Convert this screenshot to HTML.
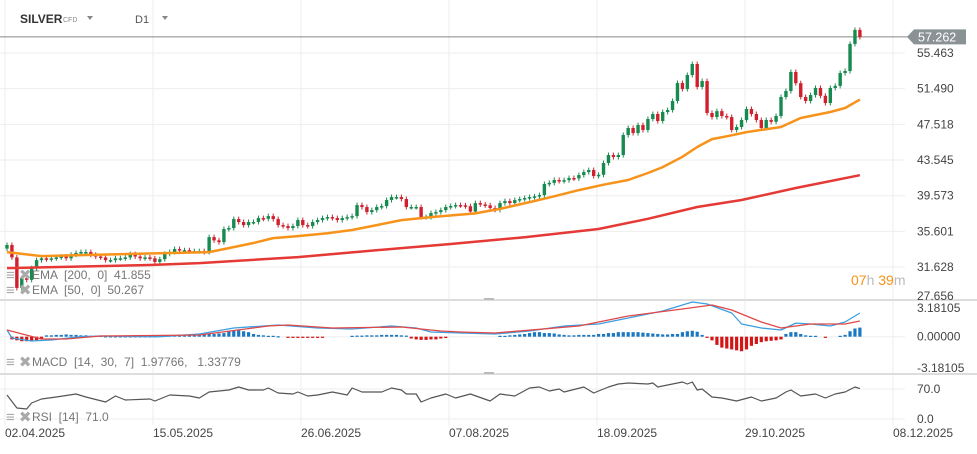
<!DOCTYPE html>
<html><head><meta charset="utf-8">
<style>
body{margin:0;background:#fff;width:977px;height:449px;overflow:hidden;font-family:"Liberation Sans",sans-serif;}
svg text{font-family:"Liberation Sans",sans-serif;white-space:pre;}
</style></head>
<body>
<svg id="c" width="977" height="449" xmlns="http://www.w3.org/2000/svg">
<g id="grid"></g>
<g id="main"></g>
<g id="macd"></g>
<g id="rsi"></g>
<g id="axes"></g>
<g>
<text x="20" y="23" font-size="12" font-weight="bold" fill="#333">SILVER</text>
<text x="63" y="22" font-size="7" fill="#888">CFD</text>
<path d="M87 16 L93 16 L90 20 Z" fill="#888"/>
<text x="135" y="23" font-size="11" fill="#555">D1</text>
<path d="M162 16 L168 16 L165 20 Z" fill="#888"/>
</g>
<g>
<text x="851" y="285" font-size="14"><tspan fill="#f7931a">07</tspan><tspan fill="#bbb">h </tspan><tspan fill="#f7931a">39</tspan><tspan fill="#bbb">m</tspan></text>
</g>
<g font-size="12" fill="#777">
<text x="6" y="280" font-size="15" fill="#aaa">≡ ✖</text>
<text x="32" y="279">EMA  [200,  0]  41.855</text>
<text x="6" y="295" font-size="15" fill="#aaa">≡ ✖</text>
<text x="32" y="294">EMA  [50,  0]  50.267</text>
<text x="6" y="367" font-size="15" fill="#aaa">≡ ✖</text>
<text x="32" y="366">MACD  [14,  30,  7]  1.97766,   1.33779</text>
<text x="6" y="422" font-size="15" fill="#aaa">≡ ✖</text>
<text x="32" y="421">RSI  [14]  71.0</text>
</g>
</svg>
<script>
const closes=[34.08,32.7,29.3,30.4,30.2,31.5,32.4,32.6,32.5,32.6,32.7,32.8,32.6,33.0,33.2,33.3,33.3,33.0,32.8,32.7,32.4,32.4,32.6,32.6,32.7,33.07,32.8,32.6,32.7,32.6,32.2,32.5,33.1,33.3,33.63,33.5,33.5,33.4,33.4,33.4,33.3,34.96,34.6,34.4,35.86,35.97,36.97,36.64,36.3,36.64,36.64,37.08,37.0,37.3,36.97,36.3,36.19,35.97,36.19,36.86,36.3,36.19,36.64,36.86,37.08,37.19,37.08,36.86,37.08,37.19,37.3,38.53,38.31,37.75,37.97,38.31,38.42,39.09,39.42,39.42,39.2,38.31,38.31,38.31,37.19,37.19,37.64,37.75,37.97,38.31,38.42,38.53,38.5,38.4,37.8,38.75,38.6,38.5,38.2,38.0,38.75,38.97,38.75,39.09,39.2,39.31,39.42,39.5,39.64,40.87,41.0,41.32,41.21,41.3,41.54,41.5,41.87,42.2,42.43,41.76,41.9,43.21,44.1,43.88,44.1,46.33,47.11,46.55,47.44,46.89,48.11,48.67,47.89,48.89,49.11,50.12,52.12,51.45,53.01,54.24,51.68,52.34,48.78,48.33,48.99,48.45,48.33,46.89,47.22,48.0,49.23,48.67,48.0,47.11,48.0,47.8,48.45,50.56,51.23,53.35,52.1,50.56,50.12,50.78,51.57,50.7,49.89,51.57,51.8,53.23,53.46,56.47,58.03,57.24];
const ema50Idx=[0,7,15,32,41,45,50,54,59,65,70,75,80,86,95,100,106,111,116,121,126,130,133,137,140,143,147,150,157,161,167,170,173];
const ema50Val=[33.29,32.85,32.96,33.18,33.29,33.74,34.3,34.85,35.07,35.4,35.75,36.3,36.86,37.19,37.6,38.1,38.86,39.5,40.2,40.8,41.32,42.1,42.76,43.9,44.99,45.88,46.3,46.66,47.22,48.22,48.89,49.34,50.27];
const ema200Idx=[0,29,39,59,80,90,105,120,130,140,149,160,173];
const ema200Val=[31.51,31.85,32.07,32.74,33.74,34.19,34.95,35.86,37.0,38.31,39.09,40.43,41.86];
const macdIdx=[0,1,5,9,15,19,31,39,46,55,63,70,78,83,86,92,99,106,113,120,126,133,139,142,147,149,153,157,160,163,167,170,173];
const macdVal=[0.74,-0.14,-0.47,-0.36,0,0.08,0,0.3,0.96,1.29,0.96,0.85,1.18,0.96,0.52,0.41,0.3,0.63,1.18,1.4,2.05,2.82,3.81,3.59,2.6,1.4,0.96,0.74,1.5,1.4,1.18,1.62,2.6];
const sigIdx=[0,7,12,19,39,53,57,66,80,88,92,99,116,126,137,143,147,153,157,163,170,173];
const sigVal=[0.74,-0.25,-0.25,0.08,0.19,1.18,1.29,0.96,1.07,0.63,0.52,0.41,1.18,2.27,3.04,3.48,2.93,1.62,0.96,1.4,1.4,1.73];
const hist=[0,-0.3,-0.4,-0.5,-0.5,-0.5,-0.4,-0.3,0.15,0.15,0.2,0.2,0.25,0.2,0.2,0.15,0.15,0.1,0.1,0.1,0.05,0.05,0.05,0.05,0.05,0.05,0.05,0.05,0.05,0.05,0.05,0.1,0.1,0.15,0.15,0.2,0.2,0.2,0.25,0.25,0.3,0.3,0.3,0.35,0.4,0.6,0.7,0.7,0.6,0.5,0.3,0.2,0.15,0.1,0.1,0.05,0,-0.1,-0.1,-0.1,-0.1,-0.1,-0.1,-0.1,-0.1,0,0,0,0,0,0.1,0.12,0.12,0.15,0.15,0.15,0.2,0.2,0.2,0.2,0.15,0.12,-0.2,-0.3,-0.35,-0.35,-0.3,-0.3,-0.2,-0.15,0,0,0,0,0,0,0,0,0,0,0.1,0.1,0.15,0.2,0.25,0.3,0.4,0.5,0.5,0.4,0.4,0.35,0.25,0.2,0.15,0.15,0.2,0.2,0.2,0.2,0.3,0.3,0.4,0.4,0.5,0.5,0.5,0.5,0.5,0.45,0.4,0.35,0.3,0.25,0.25,0.3,0.3,0.5,0.6,0.65,0.55,0.2,-0.1,-0.4,-0.9,-1.2,-1.3,-1.4,-1.5,-1.6,-1.4,-1.0,-0.8,-0.6,-0.5,-0.45,-0.4,-0.3,0.3,0.5,0.5,0.3,0.15,0.1,0.1,0,-0.1,0,0,0.1,0.2,0.6,0.9,1.0];
const rsiIdx=[0,2,4,5,7,10,14,16,20,22,24,29,30,33,37,39,41,45,47,49,52,53,55,58,59,61,63,66,69,70,72,76,78,80,81,83,84,86,89,91,94,98,100,103,106,108,110,112,113,117,119,122,124,126,130,131,132,135,137,138,139,140,141,143,145,148,151,153,156,158,159,161,164,166,168,170,172,173];
const rsiVal=[56,25.7,23.3,37.3,46.7,51.3,58.3,51.3,39.7,53.7,44.3,46.7,42,56,53.7,49,63,67.7,74.7,67.7,67.7,72.3,60.7,58.3,63,53.7,56,63,56,72.3,63,63,72.3,67.7,58.3,58.3,39.7,49,58.3,49,58.3,42,58.3,53.7,72.3,74.7,65.3,70,63,74.7,60.7,74.7,81.7,84,81.7,84,74.7,81.7,86.3,81.7,86.3,67.7,70,51.3,49,42,51.3,42,49,63,67.7,53.7,58.3,49,58.3,63,74.7,71];
const priceTicks=[55.463,51.490,47.518,43.545,39.573,35.601,31.628,27.656];
const macdTicks=[3.18105,0,-3.18105];
const macdTickLabels=["3.18105","0.00000","-3.18105"];
const rsiTicks=[70,0];
const dateLabels=["02.04.2025","15.05.2025","26.06.2025","07.08.2025","18.09.2025","29.10.2025","08.12.2025"];
const dateIdx=[0,30,60,90,120,150,180];
const lastPrice=57.262;

const NS="http://www.w3.org/2000/svg";
const X=i=>7+i*4.93;
const YP=p=>53+(55.463-p)*8.98;
const YM=v=>336.7-v*9.1;
const YR=v=>419-v*30/70;
function mk(t,a,parent){const e=document.createElementNS(NS,t);for(const k in a)e.setAttribute(k,a[k]);parent.appendChild(e);return e;}
const grid=document.getElementById('grid'),main=document.getElementById('main'),macd=document.getElementById('macd'),rsi=document.getElementById('rsi'),axes=document.getElementById('axes');

dateIdx.forEach((d,k)=>{
  const x=5+d*148/30;
  let l=mk('line',{x1:x,x2:x,y1:0,y2:425,stroke:'#eee','stroke-width':1},grid);
  
  
  let t=mk('text',{x:x,y:437,'font-size':12,fill:'#444'},axes);t.textContent=dateLabels[k];
  
  
});
priceTicks.forEach(p=>{
  const y=YP(p);
  if(p>28){let l=mk('line',{x1:0,x2:905,y1:y,y2:y,stroke:'#eee'},grid);
  
  }
  let t=mk('text',{x:917,y:Math.min(y+4,300),'font-size':12,fill:'#444'},axes);t.textContent=p.toFixed(3);
  
  
});
[300,374].forEach(y=>{let l=mk('line',{x1:0,x2:977,y1:y,y2:y,stroke:'#ddd','stroke-width':2},grid);
  
  
  let g=mk('rect',{x:484,y:y-2,width:10,height:2,fill:'#bbb'},grid);
  
  
});
macdTicks.forEach((v,k)=>{const y=YM(v);
  if(v===0){let l=mk('line',{x1:0,x2:905,y1:y,y2:y,stroke:'#eee'},grid);
  
  }
  let t=mk('text',{x:917,y:v>0?312:(v<0?372:y+4),'font-size':12,fill:'#444'},axes);t.textContent=macdTickLabels[k];
  
  
});
rsiTicks.forEach(v=>{const y=YR(v);
  let l=mk('line',{x1:0,x2:905,y1:y,y2:y,stroke:'#eee'},grid);
  
  
  let t=mk('text',{x:917,y:y+4,'font-size':12,fill:'#444'},axes);t.textContent=v.toFixed(1);
  
  
});
{const y=YP(lastPrice);
let l=mk('line',{x1:0,x2:908,y1:y,y2:y,stroke:'#888'},main);


let b=mk('path',{d:`M907 ${y} L914 ${y-7.5} L966 ${y-7.5} L966 ${y+7.5} L914 ${y+7.5} Z`,fill:'#8a9296'},axes);


let t=mk('text',{x:918,y:y+4.5,'font-size':12.5,fill:'#fff'},axes);t.textContent=lastPrice.toFixed(3);

}
closes.forEach((c,i)=>{
  const o=i===0?closes[0]-0.4:closes[i-1];
  const up=c>=o,col=up?'#178a50':'#d0202e';
  const x=X(i),top=YP(Math.max(o,c)),bot=YP(Math.min(o,c));
  let w=mk('line',{x1:x,x2:x,y1:top-2.5,y2:bot+2.5,stroke:col,'stroke-width':1},main);
  
  
  let r=mk('rect',{x:x-1.7,y:top,width:3.4,height:Math.max(1.5,bot-top),fill:col},main);
  
  
});
function line(idx,val,fy,col,w,parent,name){
  const d=idx.map((i,k)=>(k?'L':'M')+X(i).toFixed(1)+' '+fy(val[k]).toFixed(1)).join(' ');
  let p=mk('path',{d:d,fill:'none',stroke:col,'stroke-width':w,'stroke-linejoin':'round'},parent);
  
  
}
line(ema200Idx,ema200Val,YP,'#e53935',2.5,main,'ema200-line');
line(ema50Idx,ema50Val,YP,'#f7931a',2.5,main,'ema50-line');
hist.forEach((v,i)=>{
  if(v===0)return;
  const y0=YM(0),y1=YM(v);
  let r=mk('rect',{x:X(i)-1.6,y:Math.min(y0,y1),width:3.2,height:Math.max(1.2,Math.abs(y1-y0)),fill:v>0?'#1a78c2':'#d41515'},macd);
  
  
});
line(macdIdx,macdVal,YM,'#3d9ee0',1.3,macd,'macd-line');
line(sigIdx,sigVal,YM,'#e04848',1.3,macd,'macd-signal-line');
line(rsiIdx,rsiVal,YR,'#555',1.2,rsi,'rsi-line');
</script>
</body></html>
